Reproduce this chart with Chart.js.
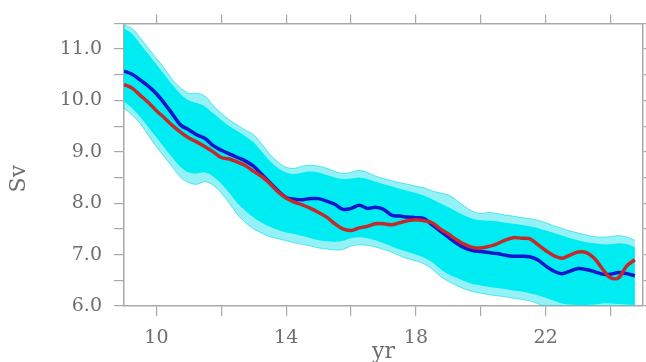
<!DOCTYPE html>
<html><head><meta charset="utf-8">
<script src="https://cdn.jsdelivr.net/npm/chart.js@4.4.0/dist/chart.umd.min.js"></script>
<style>
html,body{margin:0;padding:0;background:#fff;overflow:hidden;width:646px;height:362px}
#wrap{position:absolute;left:0;top:0;width:646px;height:365px}
</style>
</head><body><div id="wrap"><canvas id="c" width="646" height="365"></canvas></div>
<script>
const years = [9,9.25,9.5,9.75,10,10.25,10.5,10.75,11,11.25,11.5,11.75,12,12.25,12.5,12.75,13,13.25,13.5,13.75,14,14.25,14.5,14.75,15,15.25,15.5,15.75,16,16.25,16.5,16.75,17,17.25,17.5,17.75,18,18.25,18.5,18.75,19,19.25,19.5,19.75,20,20.25,20.5,20.75,21,21.25,21.5,21.75,22,22.25,22.5,22.75,23,23.25,23.5,23.75,24,24.25,24.5,24.75];
const ensembleMean = [10.57,10.51,10.40,10.28,10.13,9.94,9.73,9.52,9.43,9.33,9.26,9.12,9.03,8.96,8.89,8.82,8.72,8.56,8.40,8.24,8.11,8.08,8.07,8.09,8.09,8.04,7.98,7.88,7.90,7.96,7.90,7.92,7.88,7.77,7.75,7.73,7.72,7.70,7.58,7.46,7.34,7.22,7.13,7.08,7.06,7.04,7.02,6.99,6.97,6.97,6.96,6.90,6.78,6.68,6.63,6.68,6.73,6.71,6.67,6.62,6.62,6.65,6.63,6.59];
const observed = [10.31,10.24,10.10,9.96,9.80,9.66,9.51,9.38,9.27,9.19,9.10,9.00,8.89,8.86,8.80,8.73,8.62,8.52,8.38,8.22,8.10,8.02,7.97,7.90,7.82,7.73,7.60,7.50,7.47,7.52,7.55,7.60,7.60,7.58,7.62,7.66,7.68,7.66,7.62,7.50,7.40,7.29,7.20,7.14,7.13,7.16,7.21,7.28,7.33,7.32,7.31,7.20,7.08,6.98,6.93,6.99,7.05,7.04,6.93,6.72,6.55,6.55,6.78,6.90];
// outer edge of the ensemble spread (sparse members)
const ensembleMax = [11.47,11.40,11.22,11.02,10.82,10.62,10.40,10.24,10.14,10.14,10.08,9.90,9.75,9.62,9.52,9.42,9.33,9.15,8.95,8.80,8.70,8.68,8.72,8.74,8.72,8.68,8.62,8.58,8.60,8.64,8.60,8.53,8.48,8.44,8.40,8.37,8.33,8.30,8.24,8.20,8.16,8.06,7.94,7.84,7.80,7.82,7.80,7.77,7.75,7.72,7.70,7.67,7.62,7.56,7.51,7.46,7.42,7.38,7.35,7.34,7.35,7.37,7.34,7.28];
const ensembleMin = [9.85,9.72,9.55,9.32,9.10,8.90,8.70,8.50,8.40,8.37,8.42,8.35,8.20,8.00,7.78,7.62,7.50,7.42,7.35,7.31,7.27,7.23,7.20,7.17,7.13,7.11,7.09,7.10,7.17,7.19,7.18,7.15,7.10,7.05,6.98,6.92,6.88,6.82,6.72,6.58,6.48,6.40,6.33,6.28,6.25,6.22,6.20,6.18,6.15,6.13,6.10,6.05,5.98,5.90,5.85,5.85,5.85,5.85,5.85,5.85,5.85,5.85,5.85,5.85];
// dense core of the ensemble
const coreUpper = [11.40,11.30,11.10,10.90,10.70,10.50,10.30,10.12,10.00,9.95,9.88,9.75,9.62,9.50,9.40,9.30,9.18,9.00,8.82,8.68,8.60,8.57,8.60,8.62,8.60,8.55,8.50,8.47,8.48,8.50,8.47,8.42,8.37,8.33,8.28,8.24,8.20,8.15,8.08,8.00,7.92,7.84,7.76,7.70,7.67,7.66,7.65,7.62,7.60,7.58,7.55,7.52,7.47,7.42,7.37,7.32,7.28,7.24,7.22,7.20,7.20,7.22,7.20,7.15];
const coreLower = [9.98,9.85,9.68,9.48,9.28,9.08,8.88,8.70,8.60,8.58,8.60,8.52,8.38,8.20,8.00,7.85,7.72,7.62,7.54,7.48,7.43,7.40,7.36,7.32,7.28,7.26,7.25,7.27,7.32,7.34,7.32,7.28,7.22,7.16,7.10,7.05,7.00,6.94,6.85,6.72,6.62,6.55,6.48,6.43,6.40,6.37,6.35,6.33,6.30,6.28,6.25,6.21,6.16,6.10,6.05,6.03,6.02,6.02,6.03,6.05,6.05,6.04,6.03,6.02];
const xTickValues = [10,12,14,16,18,20,22,24];
const xTickLabels = ['10','14','18','22'];
const yTickLabels = ['6.0','7.0','8.0','9.0','10.0','11.0'];

const H = 365;
const pts = arr => arr.map((v, i) => ({x: years[i], y: v}));
const grey = '#a9a9a9';
const txt = '#6e6e6e';
const fam = 'DejaVu Serif';
const setXTicks = s => { s.ticks = xTickValues.map(v => ({value: v})); };

new Chart(document.getElementById('c'), {
  type: 'line',
  data: {
    datasets: [
      {label: 'obs', data: pts(observed), borderColor: '#c42a2a', borderWidth: 3.5, pointRadius: 0, tension: 0.35, fill: false, order: 0},
      {label: 'mean', data: pts(ensembleMean), borderColor: '#1414cc', borderWidth: 3.5, pointRadius: 0, tension: 0.35, fill: false, order: 1},
      {label: 'coreUpper', data: pts(coreUpper), borderWidth: 0, borderColor: 'rgba(0,0,0,0)', pointRadius: 0, tension: 0.35, fill: '+1', backgroundColor: 'rgb(0,236,243)', clip: 0, order: 2},
      {label: 'coreLower', data: pts(coreLower), borderWidth: 0, borderColor: 'rgba(0,0,0,0)', pointRadius: 0, tension: 0.35, fill: false, clip: 0, order: 3},
      {label: 'max', data: pts(ensembleMax), borderColor: 'rgba(0,215,230,0.6)', borderWidth: 1, pointRadius: 0, tension: 0.35, fill: '+1', backgroundColor: 'rgba(0,225,235,0.42)', clip: 0, order: 4},
      {label: 'min', data: pts(ensembleMin), borderColor: 'rgba(0,215,230,0.6)', borderWidth: 1, pointRadius: 0, tension: 0.35, fill: false, clip: 0, order: 5}
    ]
  },
  options: {
    responsive: false, animation: false, devicePixelRatio: 1,
    layout: {padding: 0},
    plugins: {legend: {display: false}, tooltip: {enabled: false}},
    scales: {
      x: {
        type: 'linear', position: 'bottom', min: 9, max: 25,
        afterBuildTicks: setXTicks,
        ticks: {color: txt, font: {family: fam, size: 19}, padding: 11, maxRotation: 0, autoSkip: false,
          callback: v => xTickLabels.includes(String(v)) ? String(v) : ''},
        grid: {drawOnChartArea: false, drawTicks: true, tickLength: 10, color: grey, lineWidth: 1.2},
        border: {display: true, color: grey, width: 1.5},
        title: {display: true, text: 'yr', color: txt, font: {family: fam, size: 22}, padding: 0},
        afterFit: s => { s.height = H - 306; }
      },
      x2: {
        type: 'linear', position: 'top', min: 9, max: 25,
        afterBuildTicks: setXTicks,
        ticks: {callback: () => '', font: {size: 1}, autoSkip: false},
        grid: {drawOnChartArea: false, drawTicks: true, tickLength: 9, color: grey, lineWidth: 1.2},
        border: {display: true, color: grey, width: 1.5},
        afterFit: s => { s.height = 14; }
      },
      y: {
        type: 'linear', position: 'left', min: 6, max: 11.5,
        ticks: {stepSize: 0.5, color: txt, font: {family: fam, size: 19}, padding: 12, autoSkip: false,
          callback: v => { const s = Number(v).toFixed(1); return yTickLabels.includes(s) ? s : ''; }},
        grid: {drawOnChartArea: false, drawTicks: true, tickLength: 10, color: grey, lineWidth: 1.2},
        border: {display: true, color: grey, width: 1.5},
        title: {display: true, text: 'Sv    ', color: txt, font: {family: fam, size: 22}, padding: {top: 6, bottom: 0}},
        afterFit: s => { s.width = 124; }
      },
      y2: {
        type: 'linear', position: 'right', min: 6, max: 11.5,
        ticks: {stepSize: 0.5, callback: () => '', font: {size: 1}, autoSkip: false},
        grid: {drawOnChartArea: false, drawTicks: true, tickLength: 3, color: grey, lineWidth: 1.2},
        border: {display: true, color: grey, width: 1.5},
        afterFit: s => { s.width = 3; }
      }
    }
  }
});
</script>
</body></html>
